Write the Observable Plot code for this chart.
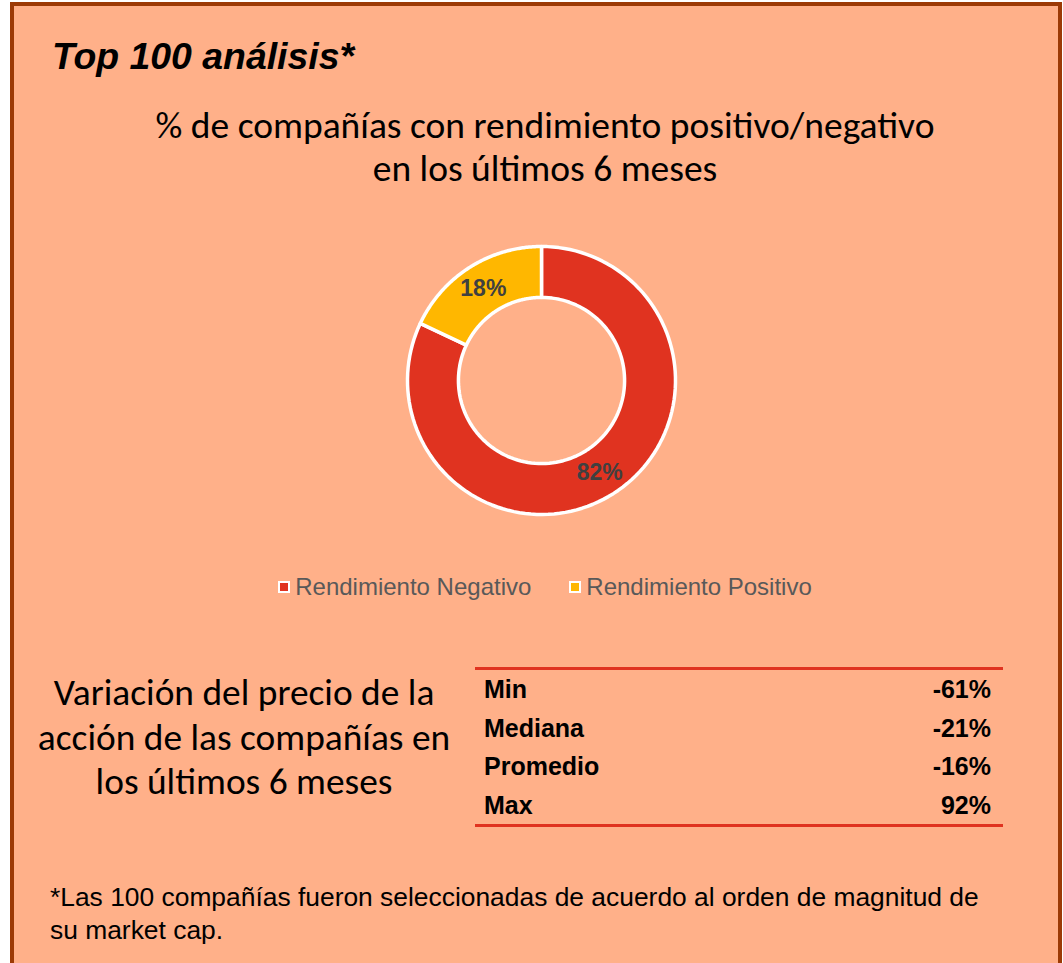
<!DOCTYPE html>
<html>
<head>
<meta charset="utf-8">
<script src="https://cdn.jsdelivr.net/npm/d3@7"></script>
<script src="https://cdn.jsdelivr.net/npm/@observablehq/plot@0.6"></script>
<style>
  html, body { margin: 0; padding: 0; background: #ffffff; }
  body { width: 1063px; height: 963px; position: relative; overflow: hidden; }
  #frame {
    position: absolute; left: 10px; top: 2px; width: 1044px; height: 1000px;
    background: #FFB089; border: 4px solid #9C3A06; border-bottom: none;
  }
  .abs { position: absolute; white-space: nowrap; }
  #title { left: 38px; top: 28px; font: italic bold 37.4px "Liberation Sans", Arial, sans-serif; line-height: 44px; color: #000; }
  #subtitle { left: 9px; width: 1044px; top: 98px; text-align: center; font: 37.5px Carlito, Lato, sans-serif; line-height: 43px; color: #000; }
  #chart { left: 367px; top: 214px; }
  #legend { left: 9px; width: 1044px; top: 566px; text-align: center; font: 24px "Liberation Sans", Arial, sans-serif; line-height: 30px; color: #595959; }
  .sw { display: inline-block; width: 8px; height: 8px; border: 2px solid #fff; margin-right: 5px; vertical-align: 2px; }
  .item { display: inline-block; margin: 0 19px; }
  #left { left: 10px; width: 440px; top: 664px; text-align: center; font: 37.4px Carlito, Lato, sans-serif; line-height: 44.5px; color: #000; }
  #table { left: 461px; top: 661px; width: 528px; border-collapse: collapse; font: bold 25px "Liberation Sans", Arial, sans-serif; color: #000; }
  #table { border-top: 3px solid #E03320; border-bottom: 3px solid #E03320; }
  #table td { padding: 0 10px 0 9px; height: 38.5px; line-height: 38.5px; }
  #table td.v { text-align: right; padding-right: 12px; }
  #note { left: 36px; top: 875px; font: 26.4px "Liberation Sans", Arial, sans-serif; line-height: 33px; color: #000; }
</style>
</head>
<body>
<div id="frame">
  <div id="title" class="abs"></div>
  <div id="subtitle" class="abs"></div>
  <div id="chart" class="abs"></div>
  <div id="legend" class="abs"></div>
  <div id="left" class="abs"></div>
  <table id="table" class="abs"></table>
  <div id="note" class="abs"></div>
</div>
<script>
// ---- data ----
const titleText = "Top 100 análisis*";
const subtitleLines = ["% de compañías con rendimiento positivo/negativo", "en los últimos 6 meses"];
const categories = ["Rendimiento Negativo", "Rendimiento Positivo"];
const shares = [82, 18];
const sliceColors = ["#E03320", "#FFB700"];
const statLabels = ["Min", "Mediana", "Promedio", "Max"];
const statValues = ["-61%", "-21%", "-16%", "92%"];
const leftLines = ["Variación del precio de la", "acción de las compañías en", "los últimos 6 meses"];
const noteLines = ["*Las 100 compañías fueron seleccionadas de acuerdo al orden de magnitud de", "su market cap."];

// ---- texts ----
document.getElementById("title").textContent = titleText;
document.getElementById("subtitle").innerHTML = subtitleLines.join("<br>");
document.getElementById("left").innerHTML = leftLines.join("<br>");
document.getElementById("note").innerHTML = noteLines.join("<br>");

// legend
const leg = document.getElementById("legend");
categories.forEach((c, i) => {
  const s = document.createElement("span"); s.className = "item";
  const sw = document.createElement("span"); sw.className = "sw"; sw.style.background = sliceColors[i];
  s.appendChild(sw); s.appendChild(document.createTextNode(c));
  leg.appendChild(s);
});

// table
const tbl = document.getElementById("table");
statLabels.forEach((l, i) => {
  const tr = document.createElement("tr");
  const a = document.createElement("td"); a.textContent = l;
  const b = document.createElement("td"); b.className = "v"; b.textContent = statValues[i];
  tr.appendChild(a); tr.appendChild(b); tbl.appendChild(tr);
});

// ---- donut geometry from data ----
const rOuter = 1, rInner = 0.62;
const total = d3.sum(shares);
const ringPts = [];
const labels = [];
let acc = 0;
categories.forEach((c, i) => {
  const a0 = acc / total * 2 * Math.PI;
  acc += shares[i];
  const a1 = acc / total * 2 * Math.PI;
  const n = 120;
  const pts = [];
  for (let k = 0; k <= n; k++) { const a = a0 + (a1 - a0) * k / n; pts.push({cat: c, x: rOuter * Math.sin(a), y: rOuter * Math.cos(a)}); }
  for (let k = n; k >= 0; k--) { const a = a0 + (a1 - a0) * k / n; pts.push({cat: c, x: rInner * Math.sin(a), y: rInner * Math.cos(a)}); }
  pts.push({...pts[0]});
  ringPts.push(...pts);
  const am = (a0 + a1) / 2, rm = (rOuter + rInner) / 2;
  labels.push({cat: c, x: rm * Math.sin(am), y: rm * Math.cos(am), text: shares[i] + "%"});
});

const R = 134, C = 160;
const chart = Plot.plot({
  width: 320, height: 320,
  margin: 0,
  x: {domain: [-1, 1], range: [C - R, C + R], axis: null},
  y: {domain: [-1, 1], range: [C + R, C - R], axis: null},
  color: {domain: categories, range: sliceColors},
  style: {background: "transparent", overflow: "visible"},
  marks: [
    Plot.line(ringPts, {x: "x", y: "y", z: "cat", fill: "cat", stroke: "white", strokeWidth: 3.5, strokeLinejoin: "miter", curve: "linear"}),
    Plot.text(labels, {x: "x", y: "y", text: "text", fill: "#404040", fontSize: 23, fontWeight: "bold", fontFamily: "Liberation Sans, Arial, sans-serif"})
  ]
});
document.getElementById("chart").appendChild(chart);
</script>
</body>
</html>
